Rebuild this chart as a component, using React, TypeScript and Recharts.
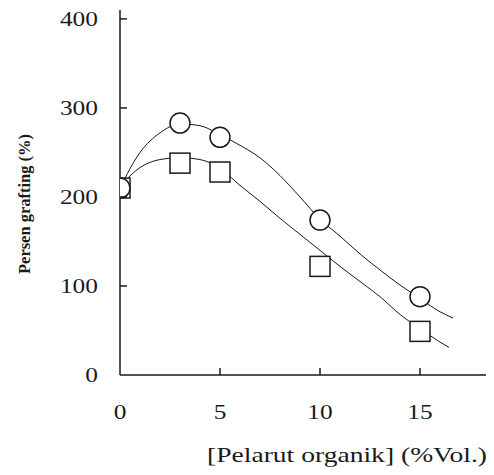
import React from "react";
import {
  ComposedChart,
  Line,
  Scatter,
  XAxis,
  YAxis,
} from "recharts";

// measured points (% vol organic solvent)
const conc = [0, 3, 5, 10, 15];
const circleVals = [210, 283, 267, 174, 88];
const squareVals = [210, 238, 228, 122, 49];

// fitted curves
const upperFitX = [0, 1, 2, 3, 4, 5, 6, 7, 8, 9, 10, 11, 12, 13, 14, 15, 16, 16.65];
const upperFitY = [210, 250, 272, 282, 280, 270, 258, 244, 224, 200, 175, 156, 136, 118, 101, 86, 71, 64];
const lowerFitX = [0, 1, 2, 3, 4, 5, 6, 7, 8, 9, 10, 11, 12, 13, 14, 15, 16, 16.45];
const lowerFitY = [212, 233, 242, 244, 242, 232, 213, 195, 176, 158, 140, 122, 105, 88, 68, 52, 37, 31];

const xTicks = [0, 5, 10, 15];
const yTicks = [0, 100, 200, 300, 400];

const FONT = "'Liberation Serif', 'Times New Roman', serif";
const INK = "#1a1a1a";
const DIGIT_W = 12.7; // the scanned figure's text is a bit wide

const toRows = (xs: number[], ys: number[]) => xs.map((x, i) => ({ x, y: ys[i] }));

const circleData = toRows(conc, circleVals);
const squareData = toRows(conc, squareVals);
const upperFit = toRows(upperFitX, upperFitY);
const lowerFit = toRows(lowerFitX, lowerFitY);

const YTick = (props: any) => {
  const { x, y, payload } = props;
  const ax = x + 22;
  const s = String(payload.value);
  return (
    <g>
      {payload.value !== 0 && (
        <line x1={ax} x2={ax + 7} y1={y} y2={y} stroke={INK} strokeWidth={1.5} />
      )}
      <text
        x={x}
        y={y}
        dy="0.35em"
        textAnchor="end"
        fontFamily={FONT}
        fontSize={20}
        textLength={s.length * DIGIT_W}
        lengthAdjust="spacingAndGlyphs"
        fill={INK}
      >
        {s}
      </text>
    </g>
  );
};

const XTick = (props: any) => {
  const { x, y, payload } = props;
  const ay = y - 30;
  const s = String(payload.value);
  return (
    <g>
      {payload.value !== 0 && (
        <line x1={x} x2={x} y1={ay} y2={ay - 7} stroke={INK} strokeWidth={1.5} />
      )}
      <text
        x={x}
        y={y}
        dy="0.71em"
        textAnchor="middle"
        fontFamily={FONT}
        fontSize={20}
        textLength={s.length * DIGIT_W}
        lengthAdjust="spacingAndGlyphs"
        fill={INK}
      >
        {s}
      </text>
    </g>
  );
};

const CircleMark = (props: any) => (
  <circle cx={props.cx} cy={props.cy} r={10} fill="#fff" stroke={INK} strokeWidth={1.5} />
);

const SquareMark = (props: any) => (
  <rect
    x={props.cx - 10}
    y={props.cy - 10}
    width={20}
    height={20}
    fill="#fff"
    stroke={INK}
    strokeWidth={1.5}
  />
);

export default function App() {
  return (
    <ComposedChart
      width={486}
      height={460}
      margin={{ top: 2, right: 0, bottom: 0, left: 0 }}
    >
      <XAxis
        dataKey="x"
        type="number"
        domain={[0, 18.7]}
        ticks={xTicks}
        allowDataOverflow
        height={93}
        tickSize={0}
        tickMargin={30}
        tick={<XTick />}
        axisLine={{ stroke: INK, strokeWidth: 1.5 }}
        label={{
          content: () => (
            <text
              x={339}
              y={454}
              textAnchor="middle"
              fontFamily={FONT}
              fontSize={21}
              textLength={280}
              lengthAdjust="spacingAndGlyphs"
              fill={INK}
            >
              [Pelarut organik] (%Vol.)
            </text>
          ),
        }}
      />
      <YAxis
        dataKey="y"
        type="number"
        domain={[0, 410]}
        ticks={yTicks}
        width={112}
        tickSize={0}
        tickMargin={22}
        tick={<YTick />}
        axisLine={{ stroke: INK, strokeWidth: 1.5 }}
        label={{
          content: () => (
            <text
              x={16}
              y={196}
              transform="rotate(-90 16 196)"
              textAnchor="middle"
              dominantBaseline="central"
              fontFamily={FONT}
              fontSize={17}
              fontWeight="bold"
              textLength={140}
              lengthAdjust="spacingAndGlyphs"
              fill={INK}
            >
              Persen grafting (%)
            </text>
          ),
        }}
      />
      <Line
        data={upperFit}
        dataKey="y"
        type="monotone"
        stroke={INK}
        strokeWidth={1}
        dot={false}
        activeDot={false}
        isAnimationActive={false}
      />
      <Line
        data={lowerFit}
        dataKey="y"
        type="monotone"
        stroke={INK}
        strokeWidth={1}
        dot={false}
        activeDot={false}
        isAnimationActive={false}
      />
      <Scatter data={squareData} dataKey="y" shape={<SquareMark />} isAnimationActive={false} />
      <Scatter data={circleData} dataKey="y" shape={<CircleMark />} isAnimationActive={false} />
    </ComposedChart>
  );
}
